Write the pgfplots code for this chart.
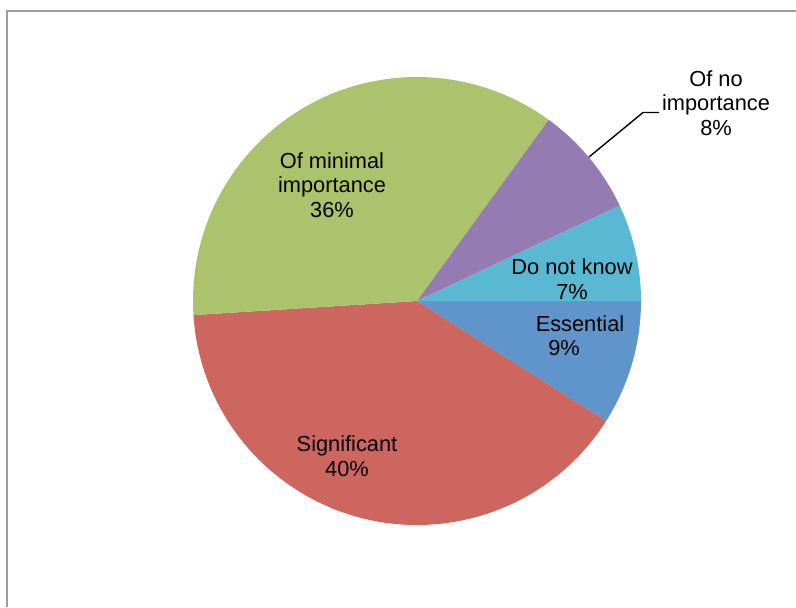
\documentclass[border=0pt]{standalone}
\usepackage{pgfplots}
\pgfplotsset{compat=1.18}
\usepackage{pgfplotstable}
\usepackage{fontspec}
\setmainfont{Liberation Sans}
\definecolor{cEss}{HTML}{5F95CA}
\definecolor{cSig}{HTML}{CE6660}
\definecolor{cMin}{HTML}{ABC36C}
\definecolor{cNo}{HTML}{947CB2}
\definecolor{cDnk}{HTML}{5AB9D2}
\definecolor{frame}{HTML}{9E9E9E}
% slice: #1 = cumulative percent before slice, #2 = percent, #3 = colour
\newcommand{\slice}[3]{%
  \fill[#3] (axis cs:417,306) -- ++({-3.6*#1}:112pt)
    arc[start angle={-3.6*#1}, end angle={-3.6*(#1+#2)}, radius=112pt] -- cycle;}
\tikzset{lbl/.style={font=\fontsize{10.9pt}{12.3pt}\selectfont, text=black, inner sep=0pt, align=center}}
\begin{document}
\begin{tikzpicture}
\useasboundingbox (0,0) rectangle (398pt,303.5pt);
\begin{axis}[
  at={(0,0)}, anchor=south west,
  scale only axis, width=398pt, height=303.5pt,
  xmin=0, xmax=796, ymin=0, ymax=607,
  hide axis, clip=false
]
% frame (top and left edges visible)
\draw[frame, line width=1pt] (axis cs:6.5,0) -- (axis cs:6.5,596.5) -- (axis cs:796,596.5);
% slices: Essential 9, Significant 40, Of minimal importance 36, Of no importance 8, Do not know 7
\slice{0}{9}{cEss}
\slice{9}{40}{cSig}
\slice{49}{36}{cMin}
\slice{85}{8}{cNo}
\slice{93}{7}{cDnk}
% leader line
\draw[black, line width=0.7pt] (axis cs:589,450) -- (axis cs:643,494.5) -- (axis cs:659,494.5);
% labels
\node[lbl] at (axis cs:332,422) {Of minimal\\importance\\36\%};
\node[lbl] at (axis cs:347,151) {Significant\\40\%};
\node[lbl] at (axis cs:572,328) {Do not know\\7\%};
\node[lbl] at (axis cs:580,283) {Essential};
\node[lbl] at (axis cs:564,259) {9\%};
\node[lbl] at (axis cs:716,504) {Of no\\importance\\8\%};
\end{axis}
\end{tikzpicture}
\end{document}
